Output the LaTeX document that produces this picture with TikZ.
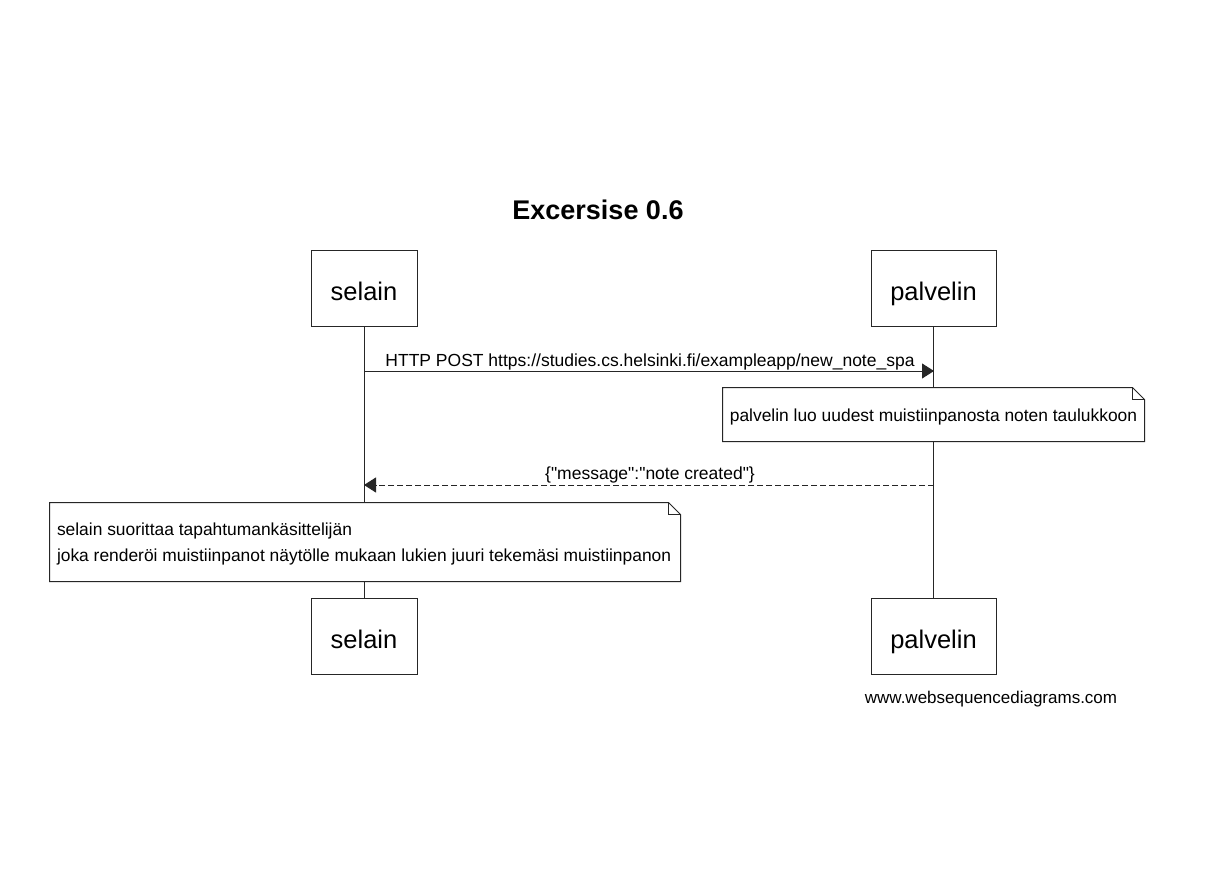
\documentclass[tikz,border=0pt]{standalone}
\usepackage{fontspec}
\setmainfont{Liberation Sans}[Ligatures=TeXOff]
\usetikzlibrary{arrows.meta,calc}
\begin{document}
\begin{tikzpicture}[x=1pt,y=-1pt,
  line width=1pt,
  actor/.style={draw=black!85,fill=white,minimum width=106pt,minimum height=76pt,inner sep=0pt,text height=24pt,text depth=0pt,font=\fontsize{25.5}{28}\selectfont},
  actorwide/.style={actor,minimum width=125pt},
  lifeline/.style={draw=black!85},
  msg/.style={draw=black!85,-{Triangle[length=12pt,width=15pt]}},
  msglabel/.style={font=\fontsize{17.5}{20}\selectfont,inner sep=0pt,anchor=base},
  notetext/.style={font=\fontsize{17.4}{26}\selectfont,inner sep=0pt},
]
\useasboundingbox (0,0) rectangle (1224,872);
\fill[white] (0,0) rectangle (1224,872);

\node[font=\bfseries\fontsize{27}{30}\selectfont] (title) at (598,210) {Excersise 0.6};

\node[actor] (s1) at (364,288) {selain};
\node[actorwide] (p1) at (933.5,288) {palvelin};
\node[actor] (s2) at (364,636) {selain};
\node[actorwide] (p2) at (933.5,636) {palvelin};

\draw[lifeline] (s1.south) -- (s2.north);
\draw[lifeline] (p1.south) -- (p2.north);

\coordinate (a1s) at (364,371);
\coordinate (a1e) at (934,371);
\draw[msg] (a1s) -- (a1e);
\node[msglabel] (l1) at (650,366) {HTTP POST https://studies.cs.helsinki.fi/exampleapp/new\_note\_spa};

% note 1
\node[minimum width=421pt,minimum height=53pt,inner sep=0pt] (n1) at (933.5,414.5) {};
\draw[draw=black!85,fill=white] (n1.north west) -- ($(n1.north east)+(-12,0)$) -- ($(n1.north east)+(0,12)$) -- (n1.south east) -- (n1.south west) -- cycle;
\draw[draw=black!85] ($(n1.north east)+(-12,0)$) -- ($(n1.north east)+(-12,12)$) -- ($(n1.north east)+(0,12)$);
\node[notetext] (t1) at ($(n1.center)+(0,2)$) {palvelin luo uudest muistiinpanosta noten taulukkoon};

\coordinate (a2s) at (934,485);
\coordinate (a2e) at (364,485);
\draw[msg,dashed,dash pattern=on 6pt off 3pt] (a2s) -- (a2e);
\node[msglabel] (l2) at (650,479) {\{"message":"note created"\}};

% note 2
\node[minimum width=630pt,minimum height=78pt,inner sep=0pt] (n2) at (365,542) {};
\draw[draw=black!85,fill=white] (n2.north west) -- ($(n2.north east)+(-12,0)$) -- ($(n2.north east)+(0,12)$) -- (n2.south east) -- (n2.south west) -- cycle;
\draw[draw=black!85] ($(n2.north east)+(-12,0)$) -- ($(n2.north east)+(-12,12)$) -- ($(n2.north east)+(0,12)$);
\node[notetext,anchor=west,align=left] (t2) at ($(n2.west)+(7,2)$) {selain suorittaa tapahtumankäsittelijän\\joka renderöi muistiinpanot näytölle mukaan lukien juuri tekemäsi muistiinpanon};

\node[font=\fontsize{17}{20}\selectfont,inner sep=0pt] (web) at (991,699) {www.websequencediagrams.com};
\end{tikzpicture}
\end{document}
